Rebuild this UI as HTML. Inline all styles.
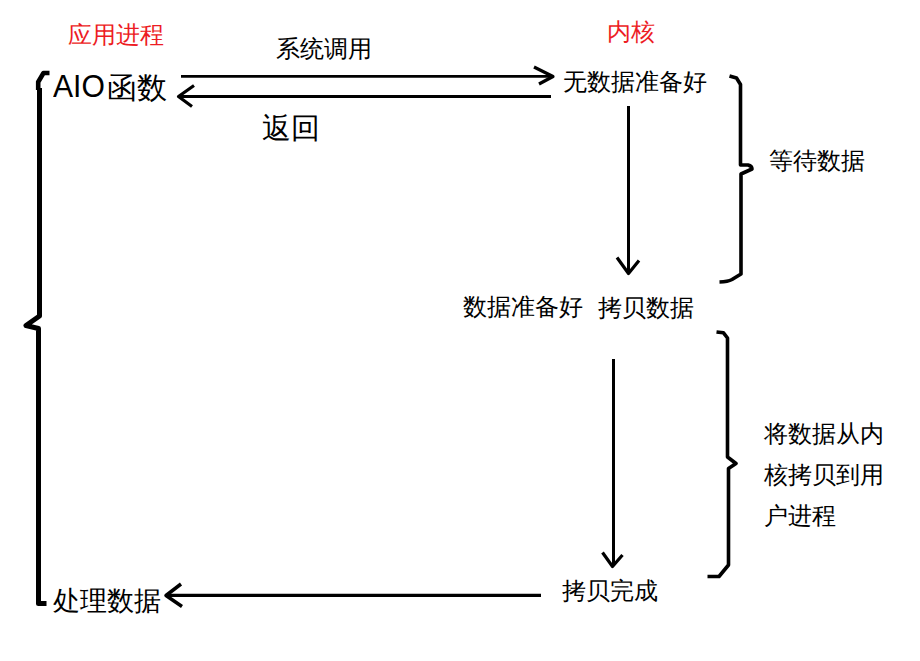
<!DOCTYPE html>
<html><head><meta charset="utf-8">
<style>
html,body{margin:0;padding:0;background:#fff;}
body{width:920px;height:661px;position:relative;overflow:hidden;font-family:"Liberation Sans",sans-serif;color:#000;}
.t{position:absolute;white-space:nowrap;line-height:1;font-size:24px;}
.r{color:#ed1c24;}
svg{position:absolute;left:0;top:0;}
</style></head><body>
<svg width="920" height="661" viewBox="0 0 920 661">
<g fill="none" stroke="#000" stroke-linecap="butt" stroke-linejoin="round">
<!-- top right arrow -->
<path d="M181 76.3H553" stroke-width="2.8"/>
<path d="M534 67L553 76.5L539 84" stroke-width="3.2"/>
<!-- return arrow -->
<path d="M178 96.4H551" stroke-width="3"/>
<path d="M194 85.5L178.5 96.5L192 106.5" stroke-width="3.2"/>
<!-- vertical arrow 1 -->
<path d="M628.5 106V274" stroke-width="3"/>
<path d="M617 257.5L628.5 273.5L639 260.5" stroke-width="3.2"/>
<!-- vertical arrow 2 -->
<path d="M613.5 359V566" stroke-width="3"/>
<path d="M602.5 552.5L612.5 566.5L622.5 555" stroke-width="3.2"/>
<!-- bottom left arrow -->
<path d="M166 595.3H541" stroke-width="3.2"/>
<path d="M181 584L166 595.5L182 606.5" stroke-width="3.5"/>
<!-- brace 1 -->
<path d="M729.5 76L736.5 78L740.5 84.5V165H748Q752 166 752 169L741 174V274L732 279.5Q728 281.8 719.5 282" stroke-width="3.6"/>
<!-- brace 2 -->
<path d="M716.5 332L723.5 332.8L727.5 338V457L736 463.5L728.5 468.5V565L719 576.5H707.5" stroke-width="3.6"/>
<!-- left brace -->
<path d="M49.5 73H43.5L38.2 82V90" stroke-width="4.6"/>
<path d="M39.5 88V316L26 325.5L38.5 328.5V603.5H46.5" stroke-width="5"/>
</g>
</svg>
<div class="t r" style="left:68px;top:23px;">应用进程</div>
<div class="t" style="left:276px;top:37px;">系统调用</div>
<div class="t r" style="left:607px;top:20px;">内核</div>
<div class="t" style="left:53px;top:70px;font-size:32px;transform:scaleX(0.94);transform-origin:0 0;">AIO</div>
<div class="t" style="left:107px;top:73px;font-size:30px;">函数</div>
<div class="t" style="left:262px;top:114px;font-size:29px;">返回</div>
<div class="t" style="left:563px;top:70px;">无数据准备好</div>
<div class="t" style="left:769px;top:149px;">等待数据</div>
<div class="t" style="left:463px;top:295px;">数据准备好</div>
<div class="t" style="left:598px;top:296px;">拷贝数据</div>
<div class="t" style="left:764px;top:422px;">将数据从内</div>
<div class="t" style="left:764px;top:463px;">核拷贝到用</div>
<div class="t" style="left:764px;top:504px;">户进程</div>
<div class="t" style="left:562px;top:579px;">拷贝完成</div>
<div class="t" style="left:53px;top:588px;font-size:27px;">处理数据</div>
</body></html>
